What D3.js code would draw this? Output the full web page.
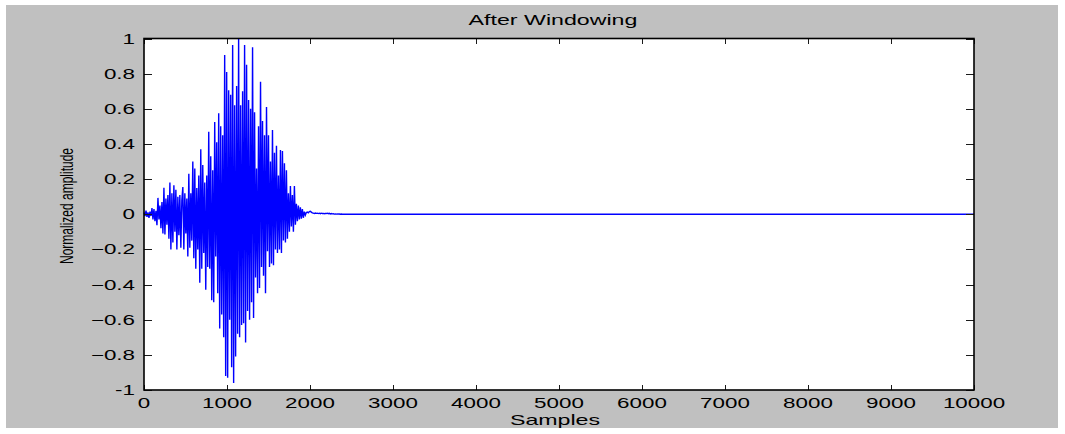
<!DOCTYPE html>
<html>
<head>
<meta charset="utf-8">
<script src="https://cdn.jsdelivr.net/npm/d3@7"></script>
<style>
  html, body { margin: 0; padding: 0; background: #ffffff; }
  svg { display: block; }
  text { font-family: "Liberation Sans", Arial, Helvetica, sans-serif; fill: #000; }
</style>
</head>
<body>
<svg id="chart" width="1065" height="434"></svg>
<script>
// Windowed signal, one amplitude value every SAMPLE_STEP samples
const SAMPLE_STEP = 12;
const amplitude = [
  0.01, -0.01, 0.02, -0.015, 0.01, -0.02, 0.015, -0.01,
  0.035, -0.03, 0.03, -0.04, 0.02,
  -0.063, 0.093,
  -0.03, 0.05, -0.08, 0.07, -0.11,
  0.15, -0.115, 0.09,
  -0.06, 0.11, -0.14,
  0.18, -0.2, 0.12,
  -0.16, 0.165, -0.1, 0.14, -0.2,
  0.1, -0.12, 0.11, -0.19, 0.08,
  0.155, -0.2, 0.12,
  -0.11, 0.09, -0.24,
  0.23, -0.19,
  0.12, -0.15,
  0.3, -0.25, 0.26,
  -0.31, 0.15,
  -0.2, 0.22, -0.39,
  0.37,
  -0.31, 0.28,
  -0.22, 0.18,
  -0.43, 0.22,
  -0.3, 0.47,
  -0.31, 0.33,
  -0.49, 0.25,
  -0.5, 0.525,
  -0.24, 0.41,
  -0.45, 0.575,
  -0.65, 0.5,
  -0.57, 0.45,
  -0.7, 0.906,
  -0.92, 0.81,
  -0.93, 0.706,
  -0.6, 0.68,
  -0.87, 0.963,
  -0.96, 0.62,
  -0.81, 0.73,
  -0.68, 1.0,
  -0.7, 0.62,
  -0.63, 0.7,
  -0.62, 0.963,
  -0.73, 0.85,
  -0.55, 0.65,
  -0.6, 0.6,
  -0.5, 0.95,
  -0.59, 0.58,
  -0.36, 0.26,
  -0.45, 0.5,
  -0.42, 0.754,
  -0.3, 0.53,
  -0.35, 0.45,
  -0.45, 0.61,
  -0.21, 0.45,
  -0.3, 0.3,
  -0.28, 0.48,
  -0.29, 0.35,
  -0.2, 0.39,
  -0.22, 0.22,
  -0.2, 0.365,
  -0.22, 0.36,
  -0.15, 0.29,
  -0.16, 0.25,
  -0.14, 0.12,
  -0.1, 0.16,
  -0.07, 0.11,
  -0.1, 0.16,
  -0.06, 0.06,
  -0.04, 0.05,
  -0.03, 0.04,
  -0.025, 0.03,
  -0.02, 0.015,
  -0.005, 0.01,
  0.012, 0.008, 0.015, 0.017, 0.012, 0.008,
  0.006, 0.004, 0.007, 0.005, 0.006, 0.004, 0.006, 0.003, 0.006, 0.004,
  0.005, 0.003, 0.005, 0.004, 0.006, 0.003, 0.005, 0.002, 0.004, 0.002,
  0.003, 0.001, 0.002, 0.001, 0.002, 0.001, 0.001, 0, 0.001, 0
];
// Silent remainder of the recording
const tailSamples = [10000];
const tailAmplitude = [0];

const xTicks = [0, 1000, 2000, 3000, 4000, 5000, 6000, 7000, 8000, 9000, 10000];
const yTicks = [-1, -0.8, -0.6, -0.4, -0.2, 0, 0.2, 0.4, 0.6, 0.8, 1];
const titleText = "After Windowing";
const xLabelText = "Samples";
const yLabelText = "Normalized amplitude";

const points = amplitude.map((v, i) => [i * SAMPLE_STEP, v])
  .concat(tailSamples.map((s, i) => [s, tailAmplitude[i]]));

const W = 1065, H = 434;
const plot = { left: 144, right: 974, top: 38.5, bottom: 390 };
const STRETCH = 1.6; // horizontal stretch of the lettering

const svg = d3.select("#chart");

// figure background
svg.append("rect").attr("x", 6).attr("y", 5).attr("width", W - 13).attr("height", H - 11)
  .attr("fill", "#c0c0c0");

const x = d3.scaleLinear().domain([0, 10000]).range([plot.left, plot.right]);
const y = d3.scaleLinear().domain([-1, 1]).range([plot.bottom, plot.top]);

// axes area
svg.append("rect")
  .attr("x", plot.left).attr("y", plot.top)
  .attr("width", plot.right - plot.left).attr("height", plot.bottom - plot.top)
  .attr("fill", "#ffffff");

// signal trace
const line = d3.line().x(d => x(d[0])).y(d => y(d[1]));
svg.append("path").datum(points)
  .attr("d", line)
  .attr("fill", "none")
  .attr("stroke", "#0000ff")
  .attr("stroke-width", 1.4)
  .attr("stroke-linejoin", "miter");

// tick marks on all four sides, pointing inward
const ticks = svg.append("g").attr("stroke", "#1a1a1a").attr("stroke-width", 1).attr("shape-rendering", "crispEdges");
const xTickLen = 5, yTickLen = 8;
xTicks.forEach(t => {
  const px = Math.round(x(t)) + 0.5;
  ticks.append("line").attr("x1", px).attr("x2", px).attr("y1", plot.bottom).attr("y2", plot.bottom - xTickLen);
  ticks.append("line").attr("x1", px).attr("x2", px).attr("y1", plot.top).attr("y2", plot.top + xTickLen);
});
yTicks.forEach(t => {
  const py = Math.round(y(t)) + 0.5;
  ticks.append("line").attr("x1", plot.left).attr("x2", plot.left + yTickLen).attr("y1", py).attr("y2", py);
  ticks.append("line").attr("x1", plot.right).attr("x2", plot.right - yTickLen).attr("y1", py).attr("y2", py);
});

// axes box
svg.append("rect")
  .attr("x", plot.left).attr("y", plot.top)
  .attr("width", plot.right - plot.left).attr("height", plot.bottom - plot.top)
  .attr("fill", "none").attr("stroke", "#000").attr("stroke-width", 1.6);

// stretched text helper
function label(px, py, str, anchor, size, rotate) {
  const g = svg.append("g")
    .attr("transform", `translate(${px},${py}) scale(${STRETCH},1)` + (rotate ? ` rotate(${rotate})` : ""));
  return g.append("text")
    .attr("text-anchor", anchor)
    .attr("font-size", size)
    .text(str);
}

const fmtY = v => v === 0 ? "0" : (Math.abs(v) === 1 ? String(v) : d3.format(".1f")(v));

xTicks.forEach(t => {
  label(x(t), 408, String(t), "middle", 14);
});
yTicks.forEach(t => {
  label(135, y(t) + 5, fmtY(t), "end", 14);
});

label((plot.left + plot.right) / 2 - 6, 25, titleText, "middle", 14.5);
label((plot.left + plot.right) / 2 - 4, 425, xLabelText, "middle", 14.5);
label(73, 206, yLabelText, "middle", 12, -90);
</script>
</body>
</html>
